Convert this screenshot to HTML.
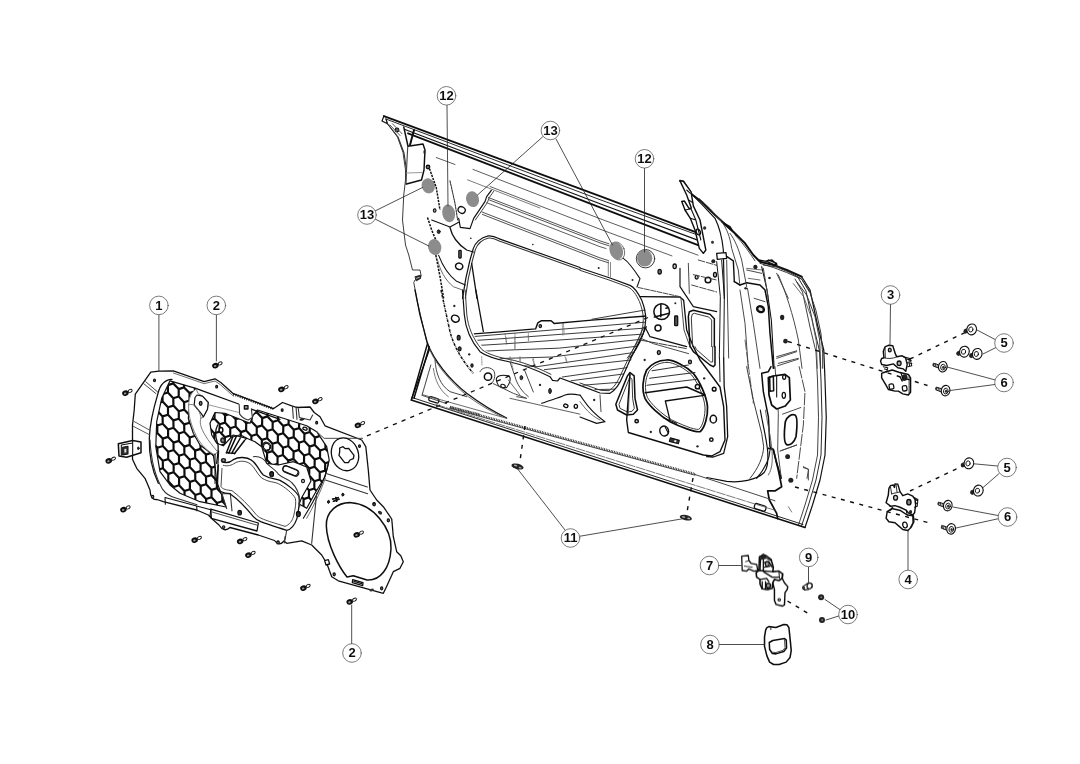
<!DOCTYPE html>
<html><head><meta charset="utf-8"><title>Door parts</title>
<style>
html,body{margin:0;padding:0;background:#fff;}
svg{display:block;}
text{font-family:"Liberation Sans",sans-serif;font-weight:bold;fill:#111;}
</style></head><body>
<svg width="1080" height="764" viewBox="0 0 1080 764" fill="none" stroke="#111" stroke-width="1" stroke-linecap="round" stroke-linejoin="round">
<defs><filter id="softblur" x="0" y="0" width="1080" height="764" filterUnits="userSpaceOnUse"><feGaussianBlur stdDeviation="0.45"/></filter></defs>
<rect x="0" y="0" width="1080" height="764" fill="#fff" stroke="none"/>
<g filter="url(#softblur)">

<!-- 10_panel.svg -->
<defs>
<g id="clip">
  <ellipse cx="-1.6" cy="0.6" rx="3.3" ry="2.7" transform="rotate(-20 -1.6 0.6)" fill="#111" stroke="none"/>
  <ellipse cx="-1.8" cy="0.9" rx="1.3" ry="0.9" transform="rotate(-20 -1.8 0.9)" fill="#999" stroke="none"/>
  <ellipse cx="3.2" cy="-1.6" rx="2.1" ry="1.4" transform="rotate(-30 3.2 -1.6)" fill="#fff" stroke="#111" stroke-width="0.90"/>
</g>
<clipPath id="hcA"><path d="M170,380.8 L195.8,388.3 L190,403.3 L188.3,418.3 L193.3,433.3 L200,445 L213.3,455 L215.5,470 L216.7,481.7 L221.7,495 L226,507 L200,501.7 L180,493.3 L170,485 L160,471.7 L155.8,446.7 L156.7,421.7 L161.7,398.3 Z"/></clipPath>
<clipPath id="hcB"><path d="M215,412.5 L225,413.3 L240,419.2 L250,423.3 L253.3,415 L257.5,410 L306.7,425.8 L316.7,431.7 L326.7,446.7 L329.2,460 L325,476.7 L315,493.3 L306.7,508.3 L299,504 L302,497 L306,490 L311,481 L306.7,467 L293.3,461.7 L278.3,465 L266.7,463.3 L261.7,446.7 L255,441.7 L246.7,438.3 L233.3,435 L223.3,445.8 L216.7,443.3 L211.7,435 L210,423.3 Z"/></clipPath>
</defs>
<g id="panel">
<!-- outer outline -->
<path fill="#fff" stroke="#111" stroke-width="1.30" d="M150.8,372.2 L159,371.2 L173.3,370.8 L204.2,381.7 L215,378.8 L220.8,382.5 L233.3,393.7 L260,403.7 L273.3,408.7 L282.5,402.5 L291.7,405.8 L296.7,407.5 L310,407 L314.2,412.5 L320,416.7 L325,425.8 L361.7,440 L365.8,446.7 L368.3,470 L370,490 L376.7,500 L383.3,506.7 L391.7,519 L392,521.7 L393.3,536.7 L396.7,551.7 L400.8,555.8 L403.3,561.7 L400,568.3 L393.3,571.7 L385.8,588.3 L383.3,593.3 L338.3,580.8 L331.7,576.7 L326.7,563.3 L321.7,555 L311.7,545 L301.7,540.8 L286.7,543.3 L284,541 Q279,547 274.5,540.5 L258.3,535 L230,527.5 Q224,533 219,525 L213.3,520 L208.3,515 L196.7,510 L163.3,501.7 L157,499.5 Q150.5,500.5 150,490 L145,478.3 L136.7,468.3 L132.5,459.2 L132.5,425 L134.2,410 L135.3,394.2 Z"/>
<!-- honeycomb A -->
<g clip-path="url(#hcA)"><path d="M173.3,383.4 L167.9,385.1 L162.5,379.4 L162.4,372.0 L167.8,370.3 L173.2,376.0Z M167.9,392.5 L162.5,394.2 L157.1,388.5 L157.1,381.1 L162.5,379.4 L167.9,385.1Z M162.6,401.6 L157.2,403.3 L151.8,397.6 L151.7,390.2 L157.1,388.5 L162.5,394.2Z M184.1,387.4 L178.7,389.1 L173.3,383.4 L173.2,376.0 L178.6,374.3 L184.0,380.0Z M178.7,396.5 L173.3,398.2 L167.9,392.5 L167.9,385.1 L173.3,383.4 L178.7,389.1Z M173.4,405.6 L168.0,407.3 L162.6,401.6 L162.5,394.2 L167.9,392.5 L173.3,398.2Z M168.0,414.7 L162.6,416.4 L157.2,410.7 L157.2,403.3 L162.6,401.6 L168.0,407.3Z M162.7,423.8 L157.3,425.5 L151.9,419.8 L151.8,412.4 L157.2,410.7 L162.6,416.4Z M157.3,432.9 L151.9,434.6 L146.5,428.9 L146.5,421.5 L151.9,419.8 L157.3,425.5Z M194.9,391.4 L189.5,393.1 L184.1,387.4 L184.0,380.0 L189.4,378.3 L194.8,384.0Z M189.5,400.5 L184.1,402.2 L178.7,396.5 L178.7,389.1 L184.1,387.4 L189.5,393.1Z M184.2,409.6 L178.8,411.3 L173.4,405.6 L173.3,398.2 L178.7,396.5 L184.1,402.2Z M178.8,418.7 L173.4,420.4 L168.0,414.7 L168.0,407.3 L173.4,405.6 L178.8,411.3Z M173.5,427.8 L168.1,429.5 L162.7,423.8 L162.6,416.4 L168.0,414.7 L173.4,420.4Z M168.1,436.9 L162.7,438.6 L157.3,432.9 L157.3,425.5 L162.7,423.8 L168.1,429.5Z M162.8,446.0 L157.4,447.7 L152.0,442.0 L151.9,434.6 L157.3,432.9 L162.7,438.6Z M157.4,455.1 L152.0,456.8 L146.6,451.1 L146.6,443.7 L152.0,442.0 L157.4,447.7Z M205.7,395.4 L200.3,397.1 L194.9,391.4 L194.8,384.0 L200.2,382.3 L205.6,388.0Z M200.3,404.5 L194.9,406.2 L189.5,400.5 L189.5,393.1 L194.9,391.4 L200.3,397.1Z M195.0,413.6 L189.6,415.3 L184.2,409.6 L184.1,402.2 L189.5,400.5 L194.9,406.2Z M189.6,422.7 L184.2,424.4 L178.8,418.7 L178.8,411.3 L184.2,409.6 L189.6,415.3Z M184.3,431.8 L178.9,433.5 L173.5,427.8 L173.4,420.4 L178.8,418.7 L184.2,424.4Z M178.9,440.9 L173.5,442.6 L168.1,436.9 L168.1,429.5 L173.5,427.8 L178.9,433.5Z M173.6,450.0 L168.2,451.7 L162.8,446.0 L162.7,438.6 L168.1,436.9 L173.5,442.6Z M168.2,459.1 L162.8,460.8 L157.4,455.1 L157.4,447.7 L162.8,446.0 L168.2,451.7Z M162.9,468.2 L157.5,469.9 L152.1,464.2 L152.0,456.8 L157.4,455.1 L162.8,460.8Z M157.5,477.3 L152.1,479.0 L146.7,473.3 L146.7,465.9 L152.1,464.2 L157.5,469.9Z M200.4,426.7 L195.0,428.4 L189.6,422.7 L189.6,415.3 L195.0,413.6 L200.4,419.3Z M195.1,435.8 L189.7,437.5 L184.3,431.8 L184.2,424.4 L189.6,422.7 L195.0,428.4Z M189.7,444.9 L184.3,446.6 L178.9,440.9 L178.9,433.5 L184.3,431.8 L189.7,437.5Z M184.4,454.0 L179.0,455.7 L173.6,450.0 L173.5,442.6 L178.9,440.9 L184.3,446.6Z M179.0,463.1 L173.6,464.8 L168.2,459.1 L168.2,451.7 L173.6,450.0 L179.0,455.7Z M173.7,472.2 L168.3,473.9 L162.9,468.2 L162.8,460.8 L168.2,459.1 L173.6,464.8Z M168.3,481.3 L162.9,483.0 L157.5,477.3 L157.5,469.9 L162.9,468.2 L168.3,473.9Z M205.9,439.8 L200.5,441.5 L195.1,435.8 L195.0,428.4 L200.4,426.7 L205.8,432.4Z M200.5,448.9 L195.1,450.6 L189.7,444.9 L189.7,437.5 L195.1,435.8 L200.5,441.5Z M195.2,458.0 L189.8,459.7 L184.4,454.0 L184.3,446.6 L189.7,444.9 L195.1,450.6Z M189.8,467.1 L184.4,468.8 L179.0,463.1 L179.0,455.7 L184.4,454.0 L189.8,459.7Z M184.5,476.2 L179.1,477.9 L173.7,472.2 L173.6,464.8 L179.0,463.1 L184.4,468.8Z M179.1,485.3 L173.7,487.0 L168.3,481.3 L168.3,473.9 L173.7,472.2 L179.1,477.9Z M173.8,494.4 L168.4,496.1 L163.0,490.4 L162.9,483.0 L168.3,481.3 L173.7,487.0Z M211.3,452.9 L205.9,454.6 L200.5,448.9 L200.5,441.5 L205.9,439.8 L211.3,445.5Z M206.0,462.0 L200.6,463.7 L195.2,458.0 L195.1,450.6 L200.5,448.9 L205.9,454.6Z M200.6,471.1 L195.2,472.8 L189.8,467.1 L189.8,459.7 L195.2,458.0 L200.6,463.7Z M195.3,480.2 L189.9,481.9 L184.5,476.2 L184.4,468.8 L189.8,467.1 L195.2,472.8Z M189.9,489.3 L184.5,491.0 L179.1,485.3 L179.1,477.9 L184.5,476.2 L189.9,481.9Z M184.6,498.4 L179.2,500.1 L173.8,494.4 L173.7,487.0 L179.1,485.3 L184.5,491.0Z M222.1,456.9 L216.7,458.6 L211.3,452.9 L211.3,445.5 L216.7,443.8 L222.1,449.5Z M216.8,466.0 L211.4,467.7 L206.0,462.0 L205.9,454.6 L211.3,452.9 L216.7,458.6Z M211.4,475.1 L206.0,476.8 L200.6,471.1 L200.6,463.7 L206.0,462.0 L211.4,467.7Z M206.1,484.2 L200.7,485.9 L195.3,480.2 L195.2,472.8 L200.6,471.1 L206.0,476.8Z M200.7,493.3 L195.3,495.0 L189.9,489.3 L189.9,481.9 L195.3,480.2 L200.7,485.9Z M195.4,502.4 L190.0,504.1 L184.6,498.4 L184.5,491.0 L189.9,489.3 L195.3,495.0Z M227.6,470.0 L222.2,471.7 L216.8,466.0 L216.7,458.6 L222.1,456.9 L227.5,462.6Z M222.2,479.1 L216.8,480.8 L211.4,475.1 L211.4,467.7 L216.8,466.0 L222.2,471.7Z M216.9,488.2 L211.5,489.9 L206.1,484.2 L206.0,476.8 L211.4,475.1 L216.8,480.8Z M211.5,497.3 L206.1,499.0 L200.7,493.3 L200.7,485.9 L206.1,484.2 L211.5,489.9Z M206.2,506.4 L200.8,508.1 L195.4,502.4 L195.3,495.0 L200.7,493.3 L206.1,499.0Z M227.7,492.2 L222.3,493.9 L216.9,488.2 L216.8,480.8 L222.2,479.1 L227.6,484.8Z M222.3,501.3 L216.9,503.0 L211.5,497.3 L211.5,489.9 L216.9,488.2 L222.3,493.9Z M217.0,510.4 L211.6,512.1 L206.2,506.4 L206.1,499.0 L211.5,497.3 L216.9,503.0Z M233.1,505.3 L227.7,507.0 L222.3,501.3 L222.3,493.9 L227.7,492.2 L233.1,497.9Z M227.8,514.4 L222.4,516.1 L217.0,510.4 L216.9,503.0 L222.3,501.3 L227.7,507.0Z" stroke="#111" stroke-width="2.20" fill="#fff"/></g>
<path d="M170,380.8 L195.8,388.3 L190,403.3 L188.3,418.3 L193.3,433.3 L200,445 L213.3,455 L215.5,470 L216.7,481.7 L221.7,495 L226,507 L200,501.7 L180,493.3 L170,485 L160,471.7 L155.8,446.7 L156.7,421.7 L161.7,398.3 Z" stroke-width="1.20"/>
<!-- honeycomb B -->
<g clip-path="url(#hcB)"><path d="M214.5,418.7 L209.2,420.4 L203.9,414.8 L204.0,407.6 L209.3,405.9 L214.6,411.5Z M209.1,427.7 L203.8,429.4 L198.5,423.8 L198.6,416.5 L203.9,414.8 L209.2,420.4Z M230.4,413.7 L225.1,415.4 L219.9,409.8 L220.0,402.5 L225.3,400.8 L230.5,406.4Z M225.0,422.6 L219.7,424.3 L214.5,418.7 L214.6,411.5 L219.9,409.8 L225.1,415.4Z M219.6,431.6 L214.3,433.3 L209.1,427.7 L209.2,420.4 L214.5,418.7 L219.7,424.3Z M214.2,440.5 L208.9,442.2 L203.7,436.6 L203.8,429.4 L209.1,427.7 L214.3,433.3Z M241.0,417.6 L235.7,419.3 L230.4,413.7 L230.5,406.4 L235.8,404.7 L241.1,410.3Z M235.6,426.5 L230.3,428.2 L225.0,422.6 L225.1,415.4 L230.4,413.7 L235.7,419.3Z M230.2,435.5 L224.9,437.2 L219.6,431.6 L219.7,424.3 L225.0,422.6 L230.3,428.2Z M224.8,444.4 L219.5,446.1 L214.2,440.5 L214.3,433.3 L219.6,431.6 L224.9,437.2Z M219.4,453.4 L214.1,455.1 L208.8,449.5 L208.9,442.2 L214.2,440.5 L219.5,446.1Z M256.9,412.5 L251.6,414.2 L246.4,408.6 L246.5,401.4 L251.8,399.7 L257.0,405.3Z M251.5,421.5 L246.2,423.2 L241.0,417.6 L241.1,410.3 L246.4,408.6 L251.6,414.2Z M246.1,430.4 L240.8,432.1 L235.6,426.5 L235.7,419.3 L241.0,417.6 L246.2,423.2Z M240.7,439.4 L235.4,441.1 L230.2,435.5 L230.3,428.2 L235.6,426.5 L240.8,432.1Z M235.3,448.3 L230.0,450.0 L224.8,444.4 L224.9,437.2 L230.2,435.5 L235.4,441.1Z M229.9,457.3 L224.6,459.0 L219.4,453.4 L219.5,446.1 L224.8,444.4 L230.0,450.0Z M267.5,416.4 L262.2,418.1 L256.9,412.5 L257.0,405.3 L262.3,403.6 L267.6,409.2Z M262.1,425.4 L256.8,427.1 L251.5,421.5 L251.6,414.2 L256.9,412.5 L262.2,418.1Z M256.7,434.3 L251.4,436.0 L246.1,430.4 L246.2,423.2 L251.5,421.5 L256.8,427.1Z M251.3,443.3 L246.0,445.0 L240.7,439.4 L240.8,432.1 L246.1,430.4 L251.4,436.0Z M278.0,420.3 L272.7,422.0 L267.5,416.4 L267.6,409.2 L272.9,407.5 L278.1,413.1Z M272.6,429.3 L267.3,431.0 L262.1,425.4 L262.2,418.1 L267.5,416.4 L272.7,422.0Z M267.2,438.2 L261.9,439.9 L256.7,434.3 L256.8,427.1 L262.1,425.4 L267.3,431.0Z M261.8,447.2 L256.5,448.9 L251.3,443.3 L251.4,436.0 L256.7,434.3 L261.9,439.9Z M288.6,424.2 L283.3,425.9 L278.0,420.3 L278.1,413.1 L283.4,411.4 L288.7,417.0Z M283.2,433.2 L277.9,434.9 L272.6,429.3 L272.7,422.0 L278.0,420.3 L283.3,425.9Z M277.8,442.1 L272.5,443.8 L267.2,438.2 L267.3,431.0 L272.6,429.3 L277.9,434.9Z M272.4,451.1 L267.1,452.8 L261.8,447.2 L261.9,439.9 L267.2,438.2 L272.5,443.8Z M267.0,460.0 L261.7,461.7 L256.4,456.1 L256.5,448.9 L261.8,447.2 L267.1,452.8Z M299.1,428.1 L293.8,429.8 L288.6,424.2 L288.7,417.0 L294.0,415.3 L299.2,420.9Z M293.7,437.1 L288.4,438.8 L283.2,433.2 L283.3,425.9 L288.6,424.2 L293.8,429.8Z M288.3,446.0 L283.0,447.7 L277.8,442.1 L277.9,434.9 L283.2,433.2 L288.4,438.8Z M282.9,455.0 L277.6,456.7 L272.4,451.1 L272.5,443.8 L277.8,442.1 L283.0,447.7Z M277.5,463.9 L272.2,465.6 L267.0,460.0 L267.1,452.8 L272.4,451.1 L277.6,456.7Z M272.1,472.9 L266.8,474.6 L261.6,469.0 L261.7,461.7 L267.0,460.0 L272.2,465.6Z M309.7,432.0 L304.4,433.7 L299.1,428.1 L299.2,420.9 L304.5,419.2 L309.8,424.8Z M304.3,441.0 L299.0,442.7 L293.7,437.1 L293.8,429.8 L299.1,428.1 L304.4,433.7Z M298.9,449.9 L293.6,451.6 L288.3,446.0 L288.4,438.8 L293.7,437.1 L299.0,442.7Z M293.5,458.9 L288.2,460.6 L282.9,455.0 L283.0,447.7 L288.3,446.0 L293.6,451.6Z M288.1,467.8 L282.8,469.5 L277.5,463.9 L277.6,456.7 L282.9,455.0 L288.2,460.6Z M282.7,476.8 L277.4,478.5 L272.1,472.9 L272.2,465.6 L277.5,463.9 L282.8,469.5Z M320.2,435.9 L314.9,437.6 L309.7,432.0 L309.8,424.8 L315.1,423.1 L320.3,428.7Z M314.8,444.9 L309.5,446.6 L304.3,441.0 L304.4,433.7 L309.7,432.0 L314.9,437.6Z M309.4,453.8 L304.1,455.5 L298.9,449.9 L299.0,442.7 L304.3,441.0 L309.5,446.6Z M304.0,462.8 L298.7,464.5 L293.5,458.9 L293.6,451.6 L298.9,449.9 L304.1,455.5Z M298.6,471.7 L293.3,473.4 L288.1,467.8 L288.2,460.6 L293.5,458.9 L298.7,464.5Z M330.8,439.8 L325.5,441.5 L320.2,435.9 L320.3,428.7 L325.6,427.0 L330.9,432.6Z M325.4,448.8 L320.1,450.5 L314.8,444.9 L314.9,437.6 L320.2,435.9 L325.5,441.5Z M320.0,457.7 L314.7,459.4 L309.4,453.8 L309.5,446.6 L314.8,444.9 L320.1,450.5Z M314.6,466.7 L309.3,468.4 L304.0,462.8 L304.1,455.5 L309.4,453.8 L314.7,459.4Z M309.2,475.6 L303.9,477.3 L298.6,471.7 L298.7,464.5 L304.0,462.8 L309.3,468.4Z M335.9,452.7 L330.6,454.4 L325.4,448.8 L325.5,441.5 L330.8,439.8 L336.0,445.4Z M330.5,461.6 L325.2,463.3 L320.0,457.7 L320.1,450.5 L325.4,448.8 L330.6,454.4Z M325.1,470.6 L319.8,472.3 L314.6,466.7 L314.7,459.4 L320.0,457.7 L325.2,463.3Z M319.7,479.5 L314.4,481.2 L309.2,475.6 L309.3,468.4 L314.6,466.7 L319.8,472.3Z M314.3,488.5 L309.0,490.2 L303.8,484.6 L303.9,477.3 L309.2,475.6 L314.4,481.2Z M308.9,497.4 L303.6,499.1 L298.4,493.5 L298.5,486.3 L303.8,484.6 L309.0,490.2Z M303.5,506.4 L298.2,508.1 L293.0,502.5 L293.1,495.2 L298.4,493.5 L303.6,499.1Z M341.1,465.5 L335.8,467.2 L330.5,461.6 L330.6,454.4 L335.9,452.7 L341.2,458.3Z M335.7,474.5 L330.4,476.2 L325.1,470.6 L325.2,463.3 L330.5,461.6 L335.8,467.2Z M330.3,483.4 L325.0,485.1 L319.7,479.5 L319.8,472.3 L325.1,470.6 L330.4,476.2Z M324.9,492.4 L319.6,494.1 L314.3,488.5 L314.4,481.2 L319.7,479.5 L325.0,485.1Z M319.5,501.3 L314.2,503.0 L308.9,497.4 L309.0,490.2 L314.3,488.5 L319.6,494.1Z M314.1,510.3 L308.8,512.0 L303.5,506.4 L303.6,499.1 L308.9,497.4 L314.2,503.0Z M308.7,519.2 L303.4,520.9 L298.1,515.3 L298.2,508.1 L303.5,506.4 L308.8,512.0Z" stroke="#111" stroke-width="2.20" fill="#fff"/></g>
<path d="M215,412.5 L225,413.3 L240,419.2 L250,423.3 L253.3,415 L257.5,410 L306.7,425.8 L316.7,431.7 L326.7,446.7 L329.2,460 L325,476.7 L315,493.3 L306.7,508.3 L299,504 L302,497 L306,490 L311,481 L306.7,467 L293.3,461.7 L278.3,465 L266.7,463.3 L261.7,446.7 L255,441.7 L246.7,438.3 L233.3,435 L223.3,445.8 L216.7,443.3 L211.7,435 L210,423.3 Z" stroke-width="1.20"/>
</g>

<!-- 11_panel_p1.svg -->
<g transform="translate(100,355) scale(0.166667)" stroke-width="6" id="p1">
<!-- corner crease -->
<path d="M262,172 L336,232 M274,160 L346,222" stroke-width="5.85" stroke="#444"/>
<ellipse cx="327" cy="152" rx="6" ry="8" fill="#555" stroke-width="6.50"/>
<ellipse cx="700" cy="190" rx="6" ry="8" fill="#555" stroke-width="6.50"/>
<!-- inner bezel -->
<path d="M432,146 C390,148 362,172 348,230 C318,330 298,420 296,500 C294,600 316,700 350,770" stroke-width="7.80"/>
<path d="M203,398 L300,452 M200,428 L296,478" stroke-width="5.85" stroke="#555"/>
<!-- top inner line -->
<path d="M575,200 L640,224 L832,294" stroke-width="7.80"/>
<path d="M912,326 L1080,386" stroke-width="7.80"/>
<path d="M440,108 L625,172 L690,156 L722,178 L800,246" stroke-width="5.20" stroke="#555"/>
<!-- comb -->
<path d="M800,235 L1040,323" stroke-width="15.60" stroke-dasharray="6 8" stroke-linecap="butt"/>
<!-- arm -->
<path d="M575,205 C548,225 533,255 532,300 C530,350 540,410 580,490 C600,530 640,575 690,600 L705,580 C680,550 650,515 630,480 C600,430 598,400 605,380 L620,372 L645,325 L650,285 L615,247 L590,232 Z" fill="#fff" stroke-width="5.85" stroke="#777"/>
<path d="M582,240 L615,247 L650,285 L645,325 L620,372 L610,355 L565,300 L570,255 Z" stroke-width="7.15"/>
<path d="M532,300 C550,290 575,300 590,330 C600,350 605,365 605,380" stroke-width="5.20" stroke="#666"/>
<ellipse cx="604" cy="290" rx="8" ry="12" stroke-width="7.80" fill="#777"/>
<path d="M655,300 L835,345" stroke-width="5.20" stroke="#888"/>
<!-- bracket tab -->
<path d="M835,298 L838,355 Q860,385 890,390 L914,374 L908,322" stroke-width="6.50" fill="#fff" stroke="#333"/>
<rect x="866" y="304" width="22" height="20" stroke-width="7.80" fill="#999"/>
<!-- left bracket -->
<path d="M110,532 L196,513 L246,522 L246,586 L160,613 L114,606 Z" fill="#fff" stroke-width="9.10"/>
<path d="M128,540 L128,602 M196,515 L196,600 M128,540 L196,528" stroke-width="6.50"/>
<path d="M136,554 L168,548 L168,594 L136,600 Z" fill="#333" stroke-width="6.50"/>
<path d="M146,564 L158,562 L158,584 L146,586 Z" fill="#ddd" stroke="none"/>
<ellipse cx="230" cy="560" rx="5" ry="8" fill="#333" stroke-width="5.20"/>
<!-- vertical lines right of honeycomb A -->
<path d="M690,592 L690,770 M712,574 L702,770" stroke-width="6.50"/>
<!-- motor cluster -->
<path d="M706,420 C690,450 690,490 706,530 C715,560 705,600 700,650" stroke-width="7.80"/>
<ellipse cx="726" cy="450" rx="11" ry="15" stroke-width="9.10" fill="#fff"/>
<ellipse cx="736" cy="512" rx="15" ry="18" fill="#222" stroke="none"/>
<ellipse cx="737" cy="512" rx="6" ry="9" fill="#888" stroke="none"/>
<ellipse cx="741" cy="632" rx="16" ry="14" fill="#222" stroke="none"/>
<ellipse cx="741" cy="632" rx="6" ry="6" fill="#999" stroke="none"/>
<path d="M758,588 L796,492 M772,590 L818,488 M790,590 L842,498 M806,592 L866,514 M760,585 L810,590" stroke-width="9.10"/>
<path d="M796,492 L842,478 L880,500 L866,514" stroke-width="6.50"/>
<!-- round holes near opening -->
<ellipse cx="998" cy="548" rx="20" ry="26" stroke-width="6.50" fill="#fff" transform="rotate(-20 998 548)"/>
<ellipse cx="998" cy="548" rx="9" ry="12" stroke-width="6.50" transform="rotate(-20 998 548)"/>
<ellipse cx="1032" cy="716" rx="9" ry="12" fill="#444" stroke-width="6.50"/>
</g>

<!-- 12_panel_p2.svg -->
<g transform="translate(200,390) scale(0.166667)" stroke-width="6" id="p2">
<!-- crease lines near top right tabs -->
<path d="M555,100 L560,170 M576,100 L582,176" stroke-width="6.50" stroke="#333"/>
<ellipse cx="612" cy="176" rx="16" ry="8" fill="#222" stroke="none" transform="rotate(-10 612 176)"/>
<path d="M590,112 L596,165 L660,180 L676,150" stroke-width="6.50" stroke="#333"/>
<ellipse cx="493" cy="120" rx="6" ry="8" fill="#555" stroke-width="6.50"/>
<ellipse cx="700" cy="196" rx="6" ry="8" fill="#555" stroke-width="6.50"/>
<ellipse cx="957" cy="336" rx="6" ry="8" fill="#555" stroke-width="6.50"/>
<!-- slot + nut in honeycomb B -->
<ellipse cx="630" cy="232" rx="13" ry="8" fill="#fff" stroke-width="7.80" transform="rotate(20 630 232)"/>
<circle cx="400" cy="340" r="24" fill="#fff" stroke-width="6.50"/>
<path d="M384,326 L404,318 L420,334 L416,356 L396,362 L380,346 Z" stroke-width="6.50"/>
<!-- inner line from bracket to right -->
<path d="M700,250 L745,290 L975,290" stroke-width="5.85" stroke="#444"/>
<!-- round knob -->
<ellipse cx="870" cy="386" rx="80" ry="100" transform="rotate(-18 870 386)" stroke-width="7.80" fill="#fff"/>
<path d="M838,348 L858,340 L872,352 L892,350 L924,392 L920,412 L900,420 L890,436 L868,436 L834,392 L838,372 Z" stroke-width="7.80" stroke-linejoin="round"/>
<!-- crease lines -->
<path d="M762,502 L1004,582 M752,540 L1006,622" stroke-width="6.50" stroke="#333"/>
<!-- line from honeycomb corner down-left -->
<path d="M772,430 C760,520 700,640 620,770" stroke-width="6.50"/>
<path d="M752,530 C720,620 680,700 640,770" stroke-width="5.20" stroke="#555"/>
<!-- slot & holes in band -->
<rect x="495" y="468" width="100" height="38" rx="19" transform="rotate(22 545 487)" stroke-width="6.50"/>
<ellipse cx="430" cy="502" rx="10" ry="12" stroke-width="7.80" fill="#666"/>
<ellipse cx="618" cy="546" rx="9" ry="10" stroke-width="6.50" fill="#ccc"/>
<ellipse cx="590" cy="742" rx="11" ry="13" stroke-width="7.80" fill="#444"/>
<!-- speaker top holes etc -->
<ellipse cx="770" cy="672" rx="5" ry="8" fill="#333" stroke-width="5.20"/>
<ellipse cx="856" cy="628" rx="5" ry="8" fill="#333" stroke-width="5.20"/>
<path d="M795,655 L830,645 M800,668 L835,655 M815,645 L820,668" stroke-width="7.80"/>
<ellipse cx="1044" cy="684" rx="7" ry="9" stroke-width="6.50" fill="#888"/>
</g>

<!-- 13_panel_p3.svg -->
<g transform="translate(120,440) scale(0.166667)" stroke-width="6" id="p3">
<!-- inner bezel lower -->
<path d="M180,0 C185,100 200,200 255,295 C275,325 300,340 340,350 L462,388" stroke-width="6.50" stroke="#333"/>
<!-- bottom rail -->
<path d="M270,345 L272,385 M270,345 L460,396 L462,425 M460,396 L545,418" stroke-width="6.50"/>
<path d="M545,415 L830,498 L822,546 L548,470 Z" fill="#fff" stroke-width="7.80"/>
<path d="M552,432 L826,512" stroke-width="5.85" stroke="#444"/>
<path d="M545,415 L540,455 L548,470" stroke-width="6.50"/>
<!-- vertical lines -->
<path d="M612,322 L640,412 M662,322 L672,425 M612,322 L662,322" stroke-width="6.50" stroke="#333"/>
<!-- opening -->
<path d="M590,150 L584,290 C590,310 620,318 660,322 C700,350 760,410 800,460 C820,485 840,492 1000,542 C1030,535 1052,500 1062,470 C1072,420 1080,370 1074,340 C1060,310 1000,262 960,242 C930,230 900,235 860,210 C830,180 820,140 790,122 C760,100 710,100 680,118 C660,135 640,142 612,132" stroke-width="7.80"/>
<path d="M612,170 L606,280 C615,296 640,300 672,304 C720,340 775,395 815,445 C835,470 860,478 990,518 C1015,510 1035,485 1042,455 C1052,410 1058,375 1052,350 C1035,320 990,282 950,262 C925,250 895,255 850,228 C815,195 808,160 780,142 C750,122 715,124 690,138 C670,152 645,160 620,152" stroke-width="5.85" stroke="#444"/>
<!-- rail outside opening -->
<path d="M800,100 C840,95 870,120 885,145 C905,165 935,180 950,205 C975,230 1010,232 1030,255 C1060,285 1075,320 1078,360 L1078,400" stroke-width="6.50" stroke="#333"/>
<!-- holes -->
<ellipse cx="718" cy="436" rx="11" ry="14" fill="#333" stroke-width="6.50"/>
<ellipse cx="910" cy="206" rx="11" ry="14" fill="#333" stroke-width="6.50"/>
<ellipse cx="1070" cy="446" rx="11" ry="14" fill="#333" stroke-width="6.50"/>
<ellipse cx="196" cy="340" rx="7" ry="8" fill="#999" stroke-width="6.50"/>
<ellipse cx="622" cy="522" rx="7" ry="8" fill="#999" stroke-width="6.50"/>
<ellipse cx="948" cy="612" rx="7" ry="8" fill="#999" stroke-width="6.50"/>
<!-- slot top right -->
<rect x="975" y="165" width="95" height="36" rx="18" transform="rotate(22 1022 183)" stroke-width="6.50"/>
<!-- line from opening bottom-right towards speaker -->
<path d="M1000,542 L990,600" stroke-width="6.50" stroke="#333"/>
</g>

<!-- 14_panel_p5.svg -->
<g transform="translate(260,490) scale(0.166667)" stroke-width="6" id="p5">
<!-- speaker opening -->
<path d="M398,215 C395,130 465,72 548,76 C680,84 792,232 786,352 C780,470 722,545 642,540 L560,514 L522,522 C480,470 400,330 398,215 Z" stroke-width="9.10" fill="#fff"/>
<!-- rect slot -->
<path d="M556,538 L618,556 L616,574 L554,556 Z" stroke-width="7.80" fill="#fff"/>
<path d="M564,548 L610,562" stroke-width="7.80"/>
<!-- holes -->
<ellipse cx="685" cy="86" rx="7" ry="9" fill="#666" stroke-width="6.50"/>
<ellipse cx="770" cy="182" rx="7" ry="9" fill="#666" stroke-width="6.50"/>
<ellipse cx="445" cy="506" rx="7" ry="9" fill="#666" stroke-width="6.50"/>
<ellipse cx="730" cy="590" rx="7" ry="9" fill="#666" stroke-width="6.50"/>
<ellipse cx="720" cy="136" rx="14" ry="10" fill="#333" stroke="none" transform="rotate(35 720 136)"/>
<ellipse cx="670" cy="600" rx="14" ry="8" fill="#333" stroke="none" transform="rotate(-20 670 600)"/>
<ellipse cx="412" cy="70" rx="5" ry="8" fill="#333" stroke-width="5.20"/>
<ellipse cx="498" cy="28" rx="5" ry="8" fill="#333" stroke-width="5.20"/>
<path d="M435,55 L470,45 M440,68 L475,55 M455,45 L460,68" stroke-width="7.80"/>
<!-- clip on edge -->
<path d="M388,424 L410,418 L418,444 L396,450 Z" stroke-width="7.80" fill="#fff"/>
<!-- line -->
<path d="M340,20 L310,320" stroke-width="6.50" stroke="#333"/>
<path d="M150,280 L146,318" stroke-width="6.50" stroke="#333"/>
<!-- bottom-left bits of opening corner -->
<ellipse cx="108" cy="316" rx="7" ry="8" fill="#999" stroke-width="6.50"/>
</g>

<!-- 15_clips.svg -->
<g id="clips">
<use href="#clip" x="217" y="365"/><use href="#clip" x="127" y="392.5"/><use href="#clip" x="283" y="388.75"/>
<use href="#clip" x="317" y="400.75"/><use href="#clip" x="359.5" y="424.7"/><use href="#clip" x="110.3" y="460.3"/>
<use href="#clip" x="125" y="509"/><use href="#clip" x="196.25" y="539.5"/><use href="#clip" x="241.75" y="540.75"/>
<use href="#clip" x="250" y="554.5"/><use href="#clip" x="305" y="587.5"/><use href="#clip" x="351.3" y="601.3"/>
<use href="#clip" x="358.3" y="534.2"/>
</g>

<!-- 20_door_outline.svg -->
<g id="door-outline">
<!-- white silhouette of door to cover anything behind -->
<path fill="#fff" stroke="none" d="M383.9,116.1 L696,232.5 L690,215 L680,180.8 L691.7,194.2 L701.7,201.7 L715,215 L733.3,231.7 L745,243.3 L753.3,255 L760,261.7 L773.3,265 L786.7,270 L801.7,276.7 L810,290 L817.5,325 L823.75,350 L825,380 L826.25,417.5 L825,455 L820,480 L812.5,505 L805,527.5 L411.25,400 L429.25,350 L417.5,302.5 L412.5,270 L408.75,255 L405.5,245 L402.5,220 L403.75,195 L405.5,170 L403,152.5 L397.5,137 L387.5,123.75 L382,121 Z"/>
<!-- top rail -->
<path d="M383.9,116.1 L600,196.1 L695,231.9" stroke-width="1.90"/>
<path d="M385.6,118.9 L600,199.7 L696,234.4" stroke-width="0.90"/>
<path d="M405,129.5 L600,203.8 L697,239.9" stroke-width="1.15"/>
<path d="M408,133.3 L600,207.4 L698,245.2" stroke-width="1.80"/>
<path d="M383.9,116.1 L382,121 L387.5,123.75 L386,119" stroke-width="1.20"/>
<!-- front edge -->
<path d="M387.5,123.75 L397.5,137 L403,152.5 L405.5,170 L405.5,180 L403.75,195 L402.5,220 L405.5,245 L408.75,255 L412.5,270 L420,270 L421.25,276.25 L415,280 L413.75,282.5 L417.5,302.5 L426.25,340 L429.25,350" stroke-width="0.95" stroke="#333"/>
<!-- rear edge (thick outer + parallels) -->
<path d="M680,180.8 L683.5,181.5 L691.7,194.2 L701.7,201.7 L715,215 L733.3,231.7 L745,243.3 L753.3,255 L760,261.7 L773.3,265 L786.7,270 L801.7,276.7" stroke-width="2.00"/>
<path d="M801.7,276.7 L810,290 L817.5,325 L823.75,350 L825,380 L826.25,417.5 L825,455 L820,480 L812.5,505 L805,527.5" stroke-width="1.20"/>
<path d="M798,277.5 L806,291 L813.5,326 L819.5,351 L821,380 L822,417.5 L821,455 L816,480 L808.5,505 L801.5,526" stroke-width="0.90"/>
<path d="M795,279 L802.5,292 L810,327 L816,352 L817.5,380 L818.5,417.5 L817.5,455 L812.5,480 L805,505 L798.5,525" stroke-width="0.80"/>
<!-- bottom edge / sill -->
<path d="M411.25,400 L805,527.5" stroke-width="1.60"/>
<path d="M412,397.5 L803,524.5" stroke-width="0.90"/>
<path d="M429.25,350 L411.25,400" stroke-width="1.20"/>
</g>

<!-- 20a_door_thin.svg -->
<g id="thinlines">
<path d="M473.0,169.4 L600.0,218.7 L698.0,255.2" stroke="#333" stroke-width="0.80"/>
<path d="M490.0,186.5 L600.0,229.2 L672.0,255.9" stroke="#333" stroke-width="0.80"/>
<path d="M467.5,179.8 L540.0,208.0" stroke="#444" stroke-width="0.70"/>
<path d="M488.3,197.5 L600.0,240.9 L609.0,243.8" stroke="#333" stroke-width="0.85"/>
<path d="M489.0,199.8 L600.0,242.9 L609.0,245.8" stroke="#333" stroke-width="0.85"/>
<path d="M486.7,202.7 L600.0,246.7 L606.0,248.5" stroke="#333" stroke-width="0.80"/>
<path d="M481.7,211.9 L600.0,257.9 L608.5,260.6" stroke="#333" stroke-width="0.85"/>
<path d="M482.4,214.4 L600.0,260.1 L608.5,262.8" stroke="#333" stroke-width="0.85"/>
<path d="M608.3,261.7 L608.3,276 M610.5,262.5 L610.5,276.8" stroke="#555" stroke-width="0.70"/>
</g>

<!-- 21_door_w1.svg -->
<g transform="translate(400,170) scale(0.166667)" stroke-width="6" id="w1">
<!-- window opening top-left corner -->
<path d="M375,770 L395,650 L420,540 L440,470 C450,440 480,405 530,395 C560,392 580,405 600,415 L1080,585" stroke-width="7.15"/>
<path d="M392,770 L410,650 L434,545 L452,478 C462,450 490,418 532,408 C560,405 580,418 600,428 L1080,598" stroke-width="6.50" stroke="#333"/>
<path d="M430,560 L462,770" stroke-width="7.80"/>
<!-- dashed weatherstrip -->
<g stroke-width="9.10" stroke-dasharray="14 7" stroke-linecap="butt">
<path d="M165,285 L190,360 L215,420"/>
<path d="M215,510 L240,640 L262,770"/>
</g>
<path d="M300,65 L330,200 L346,300" stroke-width="6.50" stroke-dasharray="12 6" stroke="#333"/>
<!-- notch mark -->
<path d="M92,640 L122,632 L124,650 L100,664 Z" fill="#222" stroke-width="5.20"/>
<path d="M100,650 L116,644" stroke="#ddd" stroke-width="5.20"/>
<!-- holes -->
<ellipse cx="370" cy="240" rx="22" ry="19" stroke-width="7.80" transform="rotate(30 370 240)"/>
<ellipse cx="208" cy="243" rx="8" ry="10" stroke-width="6.50" fill="#aaa"/>
<ellipse cx="232" cy="370" rx="9" ry="11" fill="#333" stroke-width="5.20"/>
<circle cx="425" cy="410" r="5" fill="#222" stroke="none"/>
<circle cx="797" cy="447" r="5" fill="#222" stroke="none"/>
<rect x="353" y="482" width="14" height="46" rx="4" fill="#777" stroke-width="7.80"/>
<ellipse cx="355" cy="578" rx="22" ry="19" stroke-width="9.10" transform="rotate(20 355 578)"/>
<!-- bracket -->
<path d="M548,122 L520,160 L510,190 L442,290 L420,352 L362,344 L352,290" stroke-width="7.15"/>
<path d="M562,128 L534,168 L524,196 L452,300" stroke-width="5.85" stroke="#444"/>
<path d="M190,300 L300,342 L352,314" stroke-width="6.50"/>
<path d="M300,345 C310,390 340,440 400,480 L440,492" stroke-width="7.80"/>
<path d="M232,512 C250,560 290,630 340,668 L392,690" stroke-width="6.50"/>
<path d="M225,540 C240,600 270,660 320,700 L375,720" stroke-width="5.20" stroke="#555"/>
<!-- front pillar inner lines top-left -->
</g>
<g id="grey-plugs" stroke="none" fill="#8c8c8c">
<ellipse cx="428.3" cy="185.8" rx="6.6" ry="7.6" transform="rotate(-20 428.3 185.8)"/>
<ellipse cx="448.7" cy="213.3" rx="6.4" ry="9" transform="rotate(-12 448.7 213.3)"/>
<ellipse cx="472.5" cy="199.2" rx="6.4" ry="8" transform="rotate(-15 472.5 199.2)"/>
<ellipse cx="434.7" cy="247" rx="6.6" ry="8" transform="rotate(-15 434.7 247)"/>
<ellipse cx="617.6" cy="251" rx="6.8" ry="9.2" transform="rotate(-20 617.6 251)" fill="#fff" stroke="#444" stroke-width="0.70"/>
<ellipse cx="616.2" cy="250.5" rx="6.6" ry="9" transform="rotate(-20 616.2 250.5)"/>
<circle cx="645.5" cy="258.7" r="9.2" fill="#fff" stroke="#222" stroke-width="0.90"/>
<ellipse cx="644.7" cy="258.2" rx="7.6" ry="8.4"/>
</g>

<!-- 22_door_w2.svg -->
<g transform="translate(400,290) scale(0.166667)" stroke-width="6" id="w2">
<!-- inner panel front-lower curve -->
<path d="M90,0 L120,150 L165,320 C200,420 300,540 400,620 C480,680 560,730 640,768" stroke-width="7.80"/>
<path d="M180,360 C215,450 310,560 410,640 C480,690 540,725 610,760" stroke-width="5.20" stroke="#555"/>
<!-- triangle flap -->
<path d="M165,322 L70,655 M176,340 L84,650" stroke-width="9.10"/>
<path d="M185,450 L132,632 L280,682" stroke-width="5.85" stroke="#444" stroke-dasharray="5 3"/>
<path d="M210,420 C215,500 240,570 300,610 L400,640" stroke-width="5.85" stroke="#444"/>
<path d="M200,470 C210,540 235,600 290,640" stroke-width="5.20" stroke="#666"/>
<rect x="172" y="646" width="62" height="26" rx="10" transform="rotate(17 203 659)" stroke-width="7.80"/>
<!-- weatherstrip dashed -->
<path d="M246,0 L300,250 C320,330 370,420 440,500" stroke-width="9.10" stroke-dasharray="16 5 4 5" stroke-linecap="butt"/>
<!-- window opening left/bottom edge -->
<path d="M375,0 L386,150 C392,220 420,300 480,370 C520,400 600,420 660,432 C720,445 800,470 900,520 L915,542 L945,546 L960,528 L1080,572" stroke-width="7.15"/>
<path d="M391,0 L401,150 C408,215 434,290 492,358 C530,388 600,406 664,418 C730,432 810,458 906,506" stroke-width="5.85" stroke="#333"/>
<path d="M455,0 L500,250" stroke-width="7.80"/>
<!-- beltline shelf and ribs -->
<g stroke="#777" stroke-width="4.55" stroke-dasharray="8 6"><path d="M630,262 L640,330 M690,262 L690,350 M770,258 L772,300 M980,200 L985,260 M660,400 L680,480 M720,400 L725,440 M800,410 L810,470 M990,400 L1000,440 M490,400 L492,450"/></g>
<!-- holes -->
<circle cx="326" cy="96" r="7" fill="#222" stroke="none"/>
<ellipse cx="332" cy="172" rx="24" ry="20" stroke-width="9.10" transform="rotate(25 332 172)"/>
<ellipse cx="352" cy="286" rx="9" ry="14" fill="#444" stroke-width="6.50"/>
<ellipse cx="358" cy="353" rx="9" ry="12" fill="#444" stroke-width="6.50"/>
<circle cx="415" cy="386" r="7" fill="#222" stroke="none"/>
<ellipse cx="432" cy="453" rx="10" ry="14" fill="#222" stroke="none"/>
<circle cx="528" cy="520" r="22" stroke-width="9.10"/>
<path d="M480,490 C490,465 530,455 560,480 C575,500 570,540 550,560" stroke-width="5.85" stroke="#444"/>
<path d="M578,540 C575,515 610,505 650,515 C670,525 660,560 640,585 C610,595 585,580 578,540Z" stroke-width="6.50"/>
<ellipse cx="618" cy="576" rx="14" ry="9" stroke-width="6.50" transform="rotate(20 618 576)"/>
<ellipse cx="728" cy="526" rx="8" ry="13" fill="#444" stroke-width="5.20"/>
<circle cx="840" cy="570" r="7" fill="#222" stroke="none"/>
<ellipse cx="900" cy="606" rx="8" ry="16" fill="#444" stroke-width="5.20"/>
<ellipse cx="995" cy="695" rx="13" ry="10" stroke-width="7.80" transform="rotate(20 995 695)"/>
<ellipse cx="1055" cy="698" rx="10" ry="12" stroke-width="7.80"/>
<!-- bracket lines -->
<path d="M660,432 L690,520 C700,560 730,610 770,640" stroke-width="5.85" stroke="#444"/>
<path d="M745,475 L800,612" stroke-width="5.85" stroke="#444"/>
<path d="M560,562 L680,620 L760,650 L700,640" stroke-width="5.85" stroke="#444"/>
<path d="M650,540 L720,630" stroke-width="5.20" stroke="#555"/>
<path d="M850,680 C900,660 950,650 990,630 C1020,620 1050,625 1080,632" stroke-width="6.50"/>
<path d="M660,650 L1080,745" stroke-width="5.20" stroke="#444" stroke-dasharray="10 4"/>
<!-- sill hatch -->
<path d="M300,702 L480,748" stroke-width="15.60" stroke-dasharray="3 4" stroke-linecap="butt" stroke="#333"/>
<path d="M135,628 L640,770" stroke-width="5.20" stroke="#555"/>
</g>

<!-- 23_door_w3.svg -->
<g transform="translate(560,230) scale(0.166667)" stroke-width="6" id="w3">
<!-- window opening top edge continuation + right edge -->
<path d="M120,228 L300,288 L420,332 C450,345 470,380 490,420 C510,470 522,520 510,580 C500,640 470,700 420,768" stroke-width="7.15"/>
<path d="M120,242 L300,302 L408,342 C440,358 458,390 476,428 C494,474 506,520 496,578 C486,636 456,700 404,768" stroke-width="5.85" stroke="#333"/>
<path d="M380,170 C410,190 440,230 480,292 L462,342" stroke-width="6.50"/>
<!-- holes -->
<circle cx="232" cy="228" r="6" fill="#222" stroke="none"/>
<circle cx="435" cy="300" r="6" fill="#222" stroke="none"/>
<ellipse cx="598" cy="250" rx="10" ry="14" stroke-width="7.80" fill="#777"/>
<ellipse cx="688" cy="218" rx="10" ry="14" stroke-width="7.80" fill="#ccc"/>
<ellipse cx="820" cy="283" rx="9" ry="11" stroke-width="7.80" fill="#ccc"/>
<circle cx="888" cy="300" r="17" stroke-width="9.10" fill="#fff"/>
<ellipse cx="930" cy="268" rx="9" ry="14" stroke-width="7.80" fill="#ccc"/>
<circle cx="920" cy="188" r="12" fill="#222" stroke="none"/>
<circle cx="915" cy="72" r="7" fill="#222" stroke="none"/>
<circle cx="692" cy="440" r="6" fill="#222" stroke="none"/>
<ellipse cx="592" cy="738" rx="8" ry="10" fill="#555" stroke-width="5.20"/>
<!-- circle with lines -->
<circle cx="610" cy="490" r="47" stroke-width="9.10"/>
<path d="M566,522 L656,500 M605,446 L605,520 M636,470 L648,466" stroke-width="9.10"/>
<rect x="688" y="516" width="18" height="58" rx="4" fill="#555" stroke-width="7.80"/>
<circle cx="588" cy="588" r="18" stroke-width="9.10"/>
<!-- panel lines -->
<path d="M482,400 L720,402 L742,422 L760,600 L800,700" stroke-width="7.80"/>
<path d="M726,412 L744,600 L776,690" stroke-width="5.85" stroke="#444"/>
<path d="M470,345 L720,400" stroke-width="5.85" stroke="#444" stroke-dasharray="30 8"/>
<path d="M720,230 L720,340 L760,400 L800,460 L940,490" stroke-width="7.15"/>
<path d="M770,200 L776,380" stroke-width="5.85" stroke="#444"/>
<path d="M790,330 L940,372 M800,268 L940,300 M830,180 L940,212" stroke-width="5.85" stroke="#444" stroke-dasharray="40 10"/>
<!-- trapezoid cutout top -->
<path d="M780,700 L770,520 L776,490 L800,482 L900,506 L926,532 L926,700" stroke-width="9.10"/>
<path d="M796,696 L788,528 L794,504 L806,500 L892,522 L910,540 L910,700" stroke-width="5.85" stroke="#333"/>
<!-- B pillar lines -->
<path d="M940,190 L962,400 L956,768" stroke-width="5.85"/>
<path d="M970,182 L986,400 L982,768" stroke-width="5.85"/>
<path d="M1000,180 L1012,768" stroke-width="5.85" stroke="#444"/>
<!-- lower frame lines -->
<path d="M510,582 L540,640 L760,700" stroke-width="7.15"/>
<path d="M490,652 L560,682 L772,742" stroke-width="5.85" stroke="#444"/>
</g>

<!-- 24_door_r1.svg -->
<g transform="translate(500,300) scale(0.148148)" stroke-width="6.75" id="r1">
<clipPath id="winclip"><path d="M-260,-300 L975,-300 L975,0 L990,130 L950,260 L880,420 L800,560 L770,610 L740,632 L690,625 L400,525 L385,545 L350,535 L340,510 L240,470 L80,415 L0,395 L-100,340 L-170,250 L-210,120 L-230,-80 Z"/></clipPath>
<g clip-path="url(#winclip)">
<path d="M-220,232 L0,215 L240,195 L255,155 L280,140 L345,140 L365,158 L620,136 L1000,108" stroke-width="9.75"/>
<g stroke="#333" stroke-width="6.50">
<path d="M620,130 L1000,64"/>
<path d="M-220,250 L0,232 L1000,148"/>
<path d="M-200,275 L0,262 L1000,188"/>
<path d="M-200,310 L0,298 L1000,228"/>
<path d="M-190,350 L0,340 L400,325 L1000,260"/>
<path d="M-150,395 L0,395 L350,385 L1000,302"/>
<path d="M100,440 L250,450 L1000,340"/>
<path d="M300,470 L1000,392"/>
<path d="M420,520 L1000,436"/>
<path d="M480,545 L1000,478"/>
<path d="M560,575 L1000,540"/>
<path d="M640,605 L1000,596"/>
</g>
<g stroke="#777" stroke-width="5.20" stroke-dasharray="8 6"><path d="M40,250 L44,290 M100,250 L100,330 M190,240 L192,275 M420,160 L425,240 M70,390 L90,470 M130,390 L135,420 M220,400 L235,450 M445,390 L455,430 M-100,400 L-98,450"/></g>
</g>
<ellipse cx="272" cy="176" rx="9" ry="11" fill="#666" stroke-width="7.15"/>
</g>
<!-- long dashed assembly line through window to panel -->
<path d="M648,317.5 L362,438" stroke="#111" stroke-width="1.30" stroke-dasharray="4.2 5.2" stroke-linecap="butt"/>

<!-- 25_door_w6.svg -->
<g transform="translate(580,340) scale(0.166667)" stroke-width="6" id="w6">
<!-- window bottom-right corner -->
<path d="M398,-80 L360,0 L300,120 L260,210 C240,260 215,300 180,320 L120,318 L0,272" stroke-width="7.15"/>
<path d="M384,-80 L346,0 L286,120 L246,205 C226,250 205,285 174,304 L124,302 L0,258" stroke-width="5.85" stroke="#333"/>
<!-- speaker opening -->
<path d="M520,120 C560,118 640,160 680,200 C720,250 760,340 765,400 C768,450 750,530 720,550 C690,555 600,520 540,490 C480,455 410,390 390,350 C370,300 375,230 400,180 C430,140 470,122 520,120 Z" stroke-width="10.40" fill="#fff"/>
<path d="M522,134 C560,132 632,172 670,210 C708,258 746,344 750,402 C752,448 738,520 712,536 C684,540 604,506 548,478 C490,444 424,382 404,344 C386,296 390,234 414,188 C440,152 476,136 522,134 Z" stroke-width="5.85" stroke="#333"/>
<g stroke="#333" stroke-width="6.50"><path d="M432,184 L650,150 M418,230 L690,195 M402,272 L702,236"/></g>
<path d="M392,316 L640,282 L750,330" stroke-width="9.10"/>
<path d="M745,332 L512,366 L540,482" stroke-width="7.80"/>
<path d="M500,466 L580,500" stroke-width="6.50"/>
<!-- triangle bracket -->
<path d="M300,195 L325,215 L330,350 L345,420 L320,445 L280,450 L225,420 L215,385 L285,215 Z" stroke-width="9.10"/>
<path d="M300,225 L312,235 L316,352 L326,410 L312,428 L284,432 L240,410 L234,386 L292,240 Z" stroke-width="5.85" stroke="#333"/>
<path d="M300,200 L290,445" stroke-width="5.20" stroke="#555"/>
<!-- panel plate -->
<path d="M300,200 L280,480 L290,555 L740,690 L790,696 L840,670 L870,600 L862,400 L840,282 L720,120 L680,40" stroke-width="8.45"/>
<path d="M662,40 L680,70 L780,150 L800,160 L810,150 L810,40" stroke-width="9.10"/>
<path d="M690,40 L698,56 L784,132 L796,132 L796,40" stroke-width="5.85" stroke="#333"/>
<path d="M360,0 L640,52" stroke-width="5.85" stroke="#333" stroke-dasharray="50 8"/>
<!-- holes -->
<ellipse cx="473" cy="75" rx="9" ry="11" stroke-width="7.80" fill="#999"/>
<circle cx="388" cy="120" r="7" fill="#222" stroke="none"/>
<ellipse cx="660" cy="132" rx="9" ry="11" stroke-width="7.80" fill="#999"/>
<circle cx="745" cy="230" r="7" fill="#222" stroke="none"/>
<circle cx="705" cy="280" r="13" stroke-width="9.10" fill="#fff"/>
<circle cx="805" cy="295" r="11" stroke-width="9.10" fill="#fff"/>
<ellipse cx="800" cy="475" rx="19" ry="23" stroke-width="9.10" fill="#fff"/>
<circle cx="788" cy="598" r="10" stroke-width="9.10" fill="#fff"/>
<circle cx="705" cy="638" r="7" fill="#222" stroke="none"/>
<circle cx="340" cy="487" r="10" stroke-width="9.10" fill="#ccc"/>
<circle cx="425" cy="552" r="7" fill="#222" stroke="none"/>
<ellipse cx="505" cy="546" rx="26" ry="30" stroke-width="9.10" fill="#fff" transform="rotate(-15 505 546)"/>
<path d="M510,520 L530,560" stroke-width="6.50"/>
<rect x="538" y="594" width="56" height="22" fill="#333" stroke-width="6.50" transform="rotate(15 566 605)"/>
<rect x="566" y="600" width="12" height="10" fill="#fff" stroke="none" transform="rotate(15 566 605)"/>
<circle cx="85" cy="360" r="7" fill="#222" stroke="none"/>
<!-- B pillar lines -->
<path d="M837,108 L840,250" stroke-width="5.85"/>
<path d="M862,108 L865,280 L880,400 L886,580 L862,680 L800,702 L760,700" stroke-width="7.80"/>
<path d="M990,0 L1040,380" stroke-width="5.20" stroke="#555" stroke-dasharray="60 14"/>
<!-- lower-left bracket -->
<path d="M0,330 C30,370 50,420 150,490 L100,500 L0,462" stroke-width="7.15"/>
<path d="M0,370 C30,410 60,450 120,480" stroke-width="5.20" stroke="#555"/>
<path d="M120,330 L126,430" stroke-width="5.85" stroke="#444"/>
</g>

<!-- 26_door_w5.svg -->
<g transform="translate(690,240) scale(0.166667)" stroke-width="6" id="w5">
<!-- inner parallels of rear edge top -->
<path d="M440,150 L520,162 L600,196 L668,232 L716,304 L756,424 L786,562 L796,680 L796,770" stroke-width="5.85" stroke="#333"/>
<path d="M640,250 L700,330 L750,460 L778,600 L784,770" stroke-width="5.85" stroke="#333"/>
<path d="M620,262 L682,340 L730,470 L758,610 L764,770" stroke-width="5.20" stroke="#555"/>
<path d="M460,126 L492,120 L522,150" stroke-width="7.80"/>
<!-- upper pillar second line -->
<path d="M266,250 L300,270" stroke-width="9.10"/>
<!-- step shape -->
<path d="M300,270 L340,256 L420,270 L450,300 L470,400 L480,560 L500,770" stroke-width="9.10"/>
<path d="M300,300 L330,500 L350,770" stroke-width="5.85" stroke="#444"/>
<path d="M345,290 L380,500 L420,770" stroke-width="5.85" stroke="#444"/>
<path d="M430,160 L462,300 L488,480 L505,770" stroke-width="6.50"/>
<path d="M530,210 C570,300 620,450 650,600 L672,770" stroke-width="5.85" stroke="#444"/>
<!-- holes -->
<circle cx="392" cy="160" r="12" fill="#222" stroke="none"/>
<circle cx="478" cy="228" r="7" fill="#222" stroke="none"/>
<circle cx="335" cy="290" r="7" fill="#222" stroke="none"/>
<ellipse cx="423" cy="415" rx="21" ry="17" stroke-width="14.30" fill="#ddd" transform="rotate(25 423 415)"/>
<ellipse cx="553" cy="465" rx="13" ry="16" fill="#222" stroke="none"/>
<ellipse cx="573" cy="607" rx="14" ry="14" fill="#222" stroke="none"/>
<!-- short dashes -->
<g stroke="#444" stroke-width="5.85"><path d="M340,180 L430,200 M385,350 L450,370 M520,700 L640,665 M530,740 L650,710"/></g>
</g>

<!-- 27_door_w7.svg -->
<g transform="translate(690,350) scale(0.166667)" stroke-width="6" id="w7">
<!-- step shape continues -->
<path d="M486,100 L470,130 L430,140 L440,250 L470,400 L480,580 L500,600 L520,680 L548,770" stroke-width="9.10"/>
<path d="M340,100 L380,300 L430,500 L442,580 C440,640 410,710 360,770" stroke-width="5.85" stroke="#333"/>
<path d="M480,600 C478,650 450,710 400,770" stroke-width="6.50"/>
<path d="M510,100 L530,380 L526,600 L548,770" stroke-width="5.85" stroke="#444"/>
<path d="M655,100 L690,250 L680,450 L640,770" stroke-width="5.85" stroke="#444" stroke-dasharray="70 12"/>
<!-- latch plate -->
<path d="M470,166 L500,156 L570,146 L596,166 L602,300 L572,336 L520,354 L490,330 L474,270 Z" stroke-width="10.40" fill="#fff"/>
<path d="M478,162 L500,158 L502,244 L480,248 Z" stroke-width="9.10"/>
<path d="M520,152 L520,282" stroke-width="6.50"/>
<ellipse cx="565" cy="162" rx="9" ry="14" stroke-width="7.80"/>
<ellipse cx="563" cy="272" rx="10" ry="18" stroke-width="7.80"/>
<!-- slot -->
<path d="M572,430 C580,400 610,382 630,390 C645,400 642,470 636,520 C625,555 600,575 580,568 C560,555 566,480 572,430 Z" stroke-width="10.40"/>
<!-- short dashes -->
<g stroke="#444" stroke-width="5.85"><path d="M520,50 L640,10 M525,95 L650,55 M555,385 L665,345 M545,605 L640,570"/></g>
<circle cx="587" cy="640" r="13" fill="#222" stroke="none"/>
<path d="M680,700 L712,716 L702,770" stroke-width="5.85" stroke="#444"/>
</g>

<!-- 28_door_w8.svg -->
<g transform="translate(640,420) scale(0.166667)" stroke-width="6" id="w8">
<!-- step bottom -->
<path d="M770,170 L800,176 L830,300 L850,400 L812,425 L766,425 L776,480 L820,560 L826,592" stroke-width="10.40"/>
<!-- big curve -->
<path d="M722,-60 C740,60 800,240 745,315 C700,360 600,378 520,368 L400,345" stroke-width="7.15"/>
<path d="M752,-60 C770,60 826,250 770,330" stroke-width="5.20" stroke="#555"/>
<rect x="686" y="508" width="70" height="32" rx="10" stroke-width="7.80" transform="rotate(17 721 524)"/>
<circle cx="885" cy="220" r="14" fill="#222" stroke="none"/>
<circle cx="905" cy="362" r="15" fill="#222" stroke="none"/>
<path d="M840,186 L940,150" stroke-width="5.85" stroke="#444"/>
<path d="M980,285 L1010,296 L1010,360" stroke-width="5.85" stroke="#444"/>
<path d="M890,520 L910,552" stroke-width="5.20" stroke="#666"/>
<!-- clip 11 right -->
<ellipse cx="275" cy="586" rx="37" ry="16" fill="#222" stroke="none" transform="rotate(12 275 586)"/>
<ellipse cx="262" cy="582" rx="10" ry="5" fill="#aaa" stroke="none" transform="rotate(12 262 582)"/>
<ellipse cx="292" cy="590" rx="9" ry="5" fill="#aaa" stroke="none" transform="rotate(12 292 590)"/>
</g>
<!-- clip 11 left -->
<g transform="translate(517.5,466.5)">
<ellipse cx="0" cy="0" rx="6.2" ry="2.8" fill="#222" stroke="none" transform="rotate(14)"/>
<ellipse cx="-2" cy="-0.6" rx="1.7" ry="0.8" fill="#aaa" stroke="none" transform="rotate(12)"/>
<ellipse cx="2.8" cy="0.6" rx="1.5" ry="0.8" fill="#aaa" stroke="none" transform="rotate(12)"/>
</g>
<!-- hatched band along sill + thin line -->
<path d="M450,407 L695,474" stroke="#222" stroke-width="2.20" stroke-dasharray="0.8 0.9" stroke-linecap="butt"/>
<path d="M450,408.2 L695,475.2" stroke="#222" stroke-width="0.80"/>
<path d="M695,474.5 L775,500.8" stroke="#333" stroke-width="0.90"/>
<path d="M436,404.5 L776.7,510.8" stroke="#444" stroke-width="0.70" stroke-dasharray="9 1.5"/>

<!-- 29_door_w4.svg -->
<g transform="translate(660,170) scale(0.166667)" stroke-width="6" id="w4">
<!-- prongs (channel) -->
<path d="M120,65 L140,68 L186,130 L200,215 L240,300 L275,480 L260,500 L236,470 L210,360 L182,290 L150,240 L130,188 L146,186 L175,232 L188,228 L160,150 Z" stroke-width="8.45" fill="#fff"/>
<path d="M150,240 L186,232 L215,300 M182,290 L215,300 L245,420" stroke-width="6.50"/>
<ellipse cx="230" cy="372" rx="12" ry="18" stroke-width="7.80" transform="rotate(-20 230 372)"/>
<path d="M160,120 L182,140 M172,180 L196,196" stroke-width="6.50"/>
<!-- pillar outer thick edge is in outline; inner lines -->
<path d="M190,145 L250,205 L330,290 C350,330 372,400 380,480 L386,770" stroke-width="7.15"/>
<path d="M236,172 L300,232 L370,310 C400,350 420,400 430,470 L470,600 L478,680" stroke-width="5.85" stroke="#444"/>
<path d="M385,325 L440,372 M372,312 L420,340 L440,372" stroke-width="7.80"/>
<path d="M420,380 C450,420 470,470 490,540 L520,700" stroke-width="5.85" stroke="#444"/>
<path d="M450,390 C500,440 540,500 570,545" stroke-width="5.85" stroke="#444"/>
<!-- little clip -->
<path d="M340,500 L396,496 L400,530 L344,536 Z" stroke-width="7.80" fill="#fff"/>
<path d="M402,520 L440,545 L446,670" stroke-width="8.45"/>
<!-- top right edge feature -->
<path d="M590,540 L640,548 L690,570 L700,560 L650,540" stroke-width="7.80"/>
<path d="M600,560 L680,585 L760,615 L850,655 L895,730" stroke-width="5.85" stroke="#333"/>
<path d="M620,590 L650,770 M700,620 L770,770" stroke-width="5.85" stroke="#444"/>
<path d="M520,590 L610,600 M530,650 L600,660" stroke-width="5.20" stroke="#555"/>
<!-- holes -->
<circle cx="268" cy="348" r="10" fill="#333" stroke="none"/>
<circle cx="315" cy="435" r="8" fill="#333" stroke="none"/>
<circle cx="573" cy="583" r="11" fill="#222" stroke="none"/>
<circle cx="655" cy="648" r="6" fill="#222" stroke="none"/>
<circle cx="512" cy="710" r="6" fill="#222" stroke="none"/>
</g>

<!-- 30_door_d1.svg -->
<g transform="translate(350,70) scale(0.250000)" stroke-width="4" id="d1">
<!-- second inner pillar line and mirror patch -->
<path d="M150,215 L192,268 L216,332 L226,400 L224,456" stroke-width="4.55" stroke="#333"/>
<path d="M215,228 L232,305 L292,296 L300,320 L296,400 L286,440 L226,456" stroke-width="5.85"/>
<path d="M256,240 L240,300" stroke-width="7.80"/>
<path d="M231,305 L226,400" stroke-width="4.55" stroke="#444"/>
<rect x="294" y="322" width="7" height="12" fill="#222" stroke="none"/>
<circle cx="188" cy="240" r="7" stroke-width="5.20" fill="#777"/>
<circle cx="312" cy="388" r="7" stroke-width="5.20" fill="#777"/>
<path d="M160,220 L200,262 M170,215 L208,255" stroke-width="3.90" stroke="#555"/>
<path d="M226,412 L290,410" stroke-width="4.55" stroke="#999"/>
<!-- more lines right of pillar -->
<path d="M345,350 L420,378" stroke-width="3.90" stroke="#555"/>
<path d="M318,395 L345,470 L360,560" stroke-width="5.85" stroke-dasharray="9 4" stroke-linecap="butt"/>
</g>

<!-- 40_hinges.svg -->
<defs>
<g id="bolt5">
  <path d="M-6.2,-0.2 L-2,-1.2 L-2,2.4 L-6,3.6 Z" fill="#fff" stroke="#111" stroke-width="0.90"/>
  <ellipse cx="-6.3" cy="1.8" rx="1.9" ry="2.1" fill="#222" stroke="none"/>
  <ellipse cx="0" cy="0" rx="4.8" ry="5.5" fill="#fff" stroke="#111" stroke-width="1.10" transform="rotate(15)"/>
  <ellipse cx="-0.8" cy="0.3" rx="2.1" ry="2.5" fill="#fff" stroke="#111" stroke-width="0.90" transform="rotate(15)"/>
</g>
<g id="bolt6">
  <path d="M-9,-3.4 L-3.5,-1.6 L-3.5,1.6 L-9.4,-0.6 Z" fill="#fff" stroke="#111" stroke-width="0.90"/>
  <path d="M-7.2,-2.9 L-7.5,0 M-5.6,-2.3 L-5.8,0.7" stroke="#111" stroke-width="0.80"/>
  <ellipse cx="-9.2" cy="-2" rx="1" ry="1.5" fill="#333" stroke="none"/>
  <ellipse cx="0" cy="0" rx="4.3" ry="5.3" fill="#fff" stroke="#111" stroke-width="1.10" transform="rotate(12)"/>
  <ellipse cx="0.3" cy="0.4" rx="2.3" ry="2.9" fill="#fff" stroke="#111" stroke-width="0.90" transform="rotate(12)"/>
  <ellipse cx="0.5" cy="0.6" rx="1.2" ry="1.6" fill="#333" stroke="none"/>
</g>
</defs>
<g transform="translate(870,320) scale(0.111111)" stroke-width="9" id="h3">
<!-- lower leaf -->
<path d="M105,480 L130,470 L200,450 L260,470 L345,490 L365,520 L365,650 L345,675 L295,665 L255,640 L225,640 L165,625 L140,580 L105,520 Z" fill="#fff" stroke-width="13.00"/>
<path d="M352,500 L352,660" stroke-width="7.80"/>
<rect x="173" y="576" width="40" height="46" rx="12" stroke-width="11.70" transform="rotate(-12 193 598)"/>
<rect x="292" y="592" width="40" height="46" rx="12" stroke-width="11.70" transform="rotate(-8 312 615)"/>
<!-- upper leaf -->
<path d="M120,282 L135,242 L165,228 L205,232 L230,310 L240,330 L290,322 L320,340 L335,400 L322,462 L300,440 L250,430 L210,395 L150,410 L105,400 L95,370 L105,346 L125,340 Z" fill="#fff" stroke-width="13.00"/>
<path d="M135,250 L138,340 M125,340 C160,350 200,350 240,332" stroke-width="7.80"/>
<ellipse cx="178" cy="270" rx="13" ry="17" stroke-width="11.70" fill="#aaa"/>
<ellipse cx="262" cy="390" rx="18" ry="21" stroke-width="11.70" fill="#aaa"/>
<!-- knuckle -->
<path d="M300,330 L360,346 L376,412 L340,420 M330,352 L372,364 M336,384 L376,392 M350,346 L356,414" stroke-width="9.10"/>
<path d="M120,420 L160,430 L150,470 M130,440 L150,445" stroke-width="9.10"/>
<ellipse cx="312" cy="518" rx="26" ry="30" fill="#222" stroke="none"/>
<path d="M280,480 L300,540 M270,510 L290,550" stroke-width="11.70"/>
</g>
<g id="bolts-upper">
<use href="#bolt5" x="971.7" y="329.4"/><use href="#bolt5" x="964.4" y="351.7"/><use href="#bolt5" x="977.2" y="353.9"/>
<use href="#bolt6" x="942.8" y="366.7"/><use href="#bolt6" x="945.6" y="390.6"/>
</g>
<g transform="translate(875,455) scale(0.111111)" stroke-width="9" id="h4">
<!-- lower leaf -->
<path d="M110,510 L150,482 L230,500 L290,540 L345,546 L350,600 L326,650 L296,680 L250,670 L215,640 L180,610 L125,600 L100,570 Z" fill="#fff" stroke-width="13.00"/>
<ellipse cx="270" cy="630" rx="20" ry="26" stroke-width="11.70" fill="#fff" transform="rotate(-15 270 630)"/>
<path d="M338,550 L340,610 L318,650" stroke-width="7.80"/>
<!-- upper leaf -->
<path d="M125,300 L140,276 L165,270 L175,292 L180,260 L205,262 L225,330 L250,366 L295,350 L340,370 L360,400 L366,450 L356,520 L340,540 L300,520 L280,496 L225,470 L180,456 L140,460 L100,430 L120,360 Z" fill="#fff" stroke-width="13.00"/>
<path d="M140,290 L150,350 M190,270 L198,330 M150,350 C180,340 200,340 225,332" stroke-width="7.80"/>
<ellipse cx="185" cy="385" rx="18" ry="22" stroke-width="11.70" fill="#ccc"/>
<ellipse cx="305" cy="425" rx="19" ry="24" stroke-width="13.00" fill="#888"/>
<path d="M345,380 L386,400 L380,462 L356,470 M360,400 L384,412 M362,430 L384,438" stroke-width="9.10"/>
<path d="M130,460 L160,470 L140,500 M280,496 L290,540" stroke-width="9.10"/>
<ellipse cx="320" cy="512" rx="14" ry="16" fill="#222" stroke="none"/>
</g>
<g id="bolts-lower">
<use href="#bolt5" x="968.9" y="463.3"/><use href="#bolt5" x="978.3" y="490.6"/>
<use href="#bolt6" x="947.8" y="505.6"/><use href="#bolt6" x="951.1" y="528.9"/>
</g>

<!-- 41_strap.svg -->
<g transform="translate(730,545) scale(0.111111)" stroke-width="9" id="p7">
<!-- arm -->
<path d="M105,100 L165,95 L170,140 L190,165 L240,175 L250,230 L215,235 L170,215 L150,235 L110,230 Z" fill="#fff" stroke-width="11.70"/>
<path d="M130,190 L200,200 M170,140 L140,150" stroke-width="7.80"/>
<!-- bracket lower -->
<path d="M385,340 L400,300 L470,300 L490,340 L520,375 L515,400 L495,430 L490,540 L470,550 L415,535 L400,500 L400,400 Z" fill="#fff" stroke-width="13.00"/>
<circle cx="443" cy="493" r="11" stroke-width="10.40" fill="#fff"/>
<!-- body -->
<path d="M265,110 L300,85 L330,100 L370,130 L390,200 L385,240 L440,235 L475,260 L470,300 L440,320 L400,310 L385,340 L380,390 L340,400 L290,395 L270,350 L270,310 L240,290 L235,250 L260,230 Z" fill="#fff" stroke-width="14.30"/>
<path d="M270,100 L320,95 L325,120 L275,130 Z" fill="#222" stroke-width="7.80"/>
<path d="M300,130 L300,230 M275,130 L270,230 M330,120 L370,140 M300,160 L350,150 L380,200 M310,200 L360,190 M260,230 L385,240 M300,240 L380,290 L440,290 M270,310 L330,300 L350,330 M290,330 L290,395 M320,330 L320,398" stroke-width="11.70"/>
<ellipse cx="335" cy="170" rx="18" ry="22" stroke-width="10.40" fill="#999"/>
<ellipse cx="345" cy="365" rx="20" ry="22" stroke-width="11.70" fill="#999"/>
<path d="M440,235 L445,300 M470,262 L470,300" stroke-width="9.10"/>
<!-- bolt 9 -->
<path d="M655,375 L700,345 L735,350 L740,380 L705,400 L670,405 Z" fill="#fff" stroke-width="10.40"/>
<ellipse cx="716" cy="368" rx="22" ry="26" stroke-width="10.40" fill="#fff" transform="rotate(20 716 368)"/>
<ellipse cx="662" cy="388" rx="14" ry="16" fill="#333" stroke="none"/>
<!-- nuts 10 -->
<circle cx="820" cy="470" r="27" fill="#222" stroke="none"/>
<circle cx="822" cy="470" r="9" fill="#777" stroke="none"/>
<circle cx="828" cy="675" r="27" fill="#222" stroke="none"/>
<circle cx="830" cy="675" r="9" fill="#777" stroke="none"/>
</g>
<g transform="translate(750,615) scale(0.078555)" stroke-width="12.73" id="p8">
<path d="M215,160 L240,148 L330,160 L430,120 L470,125 L495,160 L510,300 L525,450 L510,540 L460,600 L370,630 L300,630 L250,600 L215,520 L185,400 L185,280 L200,190 Z" fill="#fff" stroke-width="19.50" stroke-linejoin="round"/>
<path d="M245,350 L290,325 L440,300 L462,320 L465,420 L430,465 L330,495 L285,490 L250,440 Z" stroke-width="19.50" stroke-linejoin="round"/>
<path d="M440,318 L446,415 L420,450 L330,478 L290,474" stroke-width="11.70" stroke="#333"/>
<path d="M265,165 L265,186" stroke-width="11.70"/>
</g>

<!-- 80_dashed.svg -->
<!-- dashed lines door->hinges -->
<g stroke="#111" stroke-width="1.40" stroke-dasharray="4 5.5" stroke-linecap="butt">
<path d="M788,341.5 L927.5,385.5"/>
<path d="M795,487 L932.5,523.75"/>
<path d="M910,359 L965,332.5"/>
<path d="M910,491 L962.5,466"/>
<path d="M787.5,601 L810,614.5"/>
<path d="M525,426 L520,461"/>
<path d="M693,478 L687,512"/>
</g>

<!-- 90_callouts.svg -->
<g id="leaders" stroke="#222" stroke-width="0.80">
<line x1="158.9" y1="314.5" x2="158.9" y2="370.5"/>
<line x1="216.4" y1="314.5" x2="216.4" y2="361.0"/>
<line x1="351.7" y1="605.0" x2="351.7" y2="643.8"/>
<line x1="447.0" y1="105.0" x2="448.0" y2="206.0"/>
<line x1="542.5" y1="137.0" x2="477.5" y2="195.0"/>
<line x1="556.0" y1="139.0" x2="612.5" y2="245.0"/>
<line x1="644.5" y1="168.0" x2="644.5" y2="252.0"/>
<line x1="375.0" y1="211.0" x2="422.5" y2="187.5"/>
<line x1="375.0" y1="219.0" x2="428.8" y2="246.0"/>
<line x1="565.0" y1="530.0" x2="517.5" y2="468.8"/>
<line x1="580.0" y1="536.2" x2="682.5" y2="518.8"/>
<line x1="890.5" y1="304.0" x2="890.0" y2="345.0"/>
<line x1="977.0" y1="330.0" x2="996.0" y2="340.0"/>
<line x1="983.0" y1="354.0" x2="996.0" y2="347.5"/>
<line x1="947.0" y1="367.0" x2="995.5" y2="380.0"/>
<line x1="950.0" y1="390.5" x2="995.0" y2="384.5"/>
<line x1="973.8" y1="463.8" x2="997.5" y2="466.0"/>
<line x1="982.5" y1="488.0" x2="998.8" y2="473.8"/>
<line x1="953.0" y1="507.0" x2="998.0" y2="515.5"/>
<line x1="956.0" y1="528.0" x2="998.0" y2="518.8"/>
<line x1="908.0" y1="531.0" x2="908.0" y2="570.0"/>
<line x1="719.0" y1="565.5" x2="741.0" y2="565.5"/>
<line x1="719.5" y1="644.5" x2="764.5" y2="644.5"/>
<line x1="808.5" y1="567.0" x2="808.5" y2="582.5"/>
<line x1="825.0" y1="599.5" x2="840.5" y2="610.0"/>
<line x1="826.0" y1="620.0" x2="838.8" y2="616.0"/>
</g>
<g id="callouts">
<circle cx="158.9" cy="305.4" r="9.3" fill="#fff" stroke="#444" stroke-width="0.70"/>
<text x="158.9" y="309.87" font-size="13" text-anchor="middle" stroke="none">1</text>
<circle cx="216.3" cy="305.4" r="9.3" fill="#fff" stroke="#444" stroke-width="0.70"/>
<text x="216.3" y="309.87" font-size="13" text-anchor="middle" stroke="none">2</text>
<circle cx="352.0" cy="653.0" r="9.3" fill="#fff" stroke="#444" stroke-width="0.70"/>
<text x="352.0" y="657.47" font-size="13" text-anchor="middle" stroke="none">2</text>
<circle cx="446.5" cy="95.8" r="9.3" fill="#fff" stroke="#444" stroke-width="0.70"/>
<text x="446.5" y="100.22" font-size="13" text-anchor="middle" stroke="none">12</text>
<circle cx="550.4" cy="130.5" r="9.3" fill="#fff" stroke="#444" stroke-width="0.70"/>
<text x="550.4" y="134.97" font-size="13" text-anchor="middle" stroke="none">13</text>
<circle cx="644.5" cy="158.8" r="9.3" fill="#fff" stroke="#444" stroke-width="0.70"/>
<text x="644.5" y="163.22" font-size="13" text-anchor="middle" stroke="none">12</text>
<circle cx="367.0" cy="215.0" r="9.3" fill="#fff" stroke="#444" stroke-width="0.70"/>
<text x="367.0" y="219.47" font-size="13" text-anchor="middle" stroke="none">13</text>
<circle cx="570.5" cy="538.0" r="9.3" fill="#fff" stroke="#444" stroke-width="0.70"/>
<text x="570.5" y="542.47" font-size="13" text-anchor="middle" stroke="none">11</text>
<circle cx="890.5" cy="295.0" r="9.3" fill="#fff" stroke="#444" stroke-width="0.70"/>
<text x="890.5" y="299.47" font-size="13" text-anchor="middle" stroke="none">3</text>
<circle cx="1004.0" cy="343.0" r="9.3" fill="#fff" stroke="#444" stroke-width="0.70"/>
<text x="1004.0" y="347.47" font-size="13" text-anchor="middle" stroke="none">5</text>
<circle cx="1004.0" cy="382.5" r="9.3" fill="#fff" stroke="#444" stroke-width="0.70"/>
<text x="1004.0" y="386.97" font-size="13" text-anchor="middle" stroke="none">6</text>
<circle cx="1007.0" cy="467.5" r="9.3" fill="#fff" stroke="#444" stroke-width="0.70"/>
<text x="1007.0" y="471.97" font-size="13" text-anchor="middle" stroke="none">5</text>
<circle cx="1007.5" cy="517.0" r="9.3" fill="#fff" stroke="#444" stroke-width="0.70"/>
<text x="1007.5" y="521.47" font-size="13" text-anchor="middle" stroke="none">6</text>
<circle cx="908.2" cy="579.5" r="9.3" fill="#fff" stroke="#444" stroke-width="0.70"/>
<text x="908.2" y="583.97" font-size="13" text-anchor="middle" stroke="none">4</text>
<circle cx="709.5" cy="565.5" r="9.3" fill="#fff" stroke="#444" stroke-width="0.70"/>
<text x="709.5" y="569.97" font-size="13" text-anchor="middle" stroke="none">7</text>
<circle cx="710.0" cy="644.5" r="9.3" fill="#fff" stroke="#444" stroke-width="0.70"/>
<text x="710.0" y="648.97" font-size="13" text-anchor="middle" stroke="none">8</text>
<circle cx="808.7" cy="557.4" r="9.3" fill="#fff" stroke="#444" stroke-width="0.70"/>
<text x="808.7" y="561.87" font-size="13" text-anchor="middle" stroke="none">9</text>
<circle cx="848.0" cy="614.5" r="9.3" fill="#fff" stroke="#444" stroke-width="0.70"/>
<text x="848.0" y="618.97" font-size="13" text-anchor="middle" stroke="none">10</text>
</g>

</g>
</svg>
</body></html>
